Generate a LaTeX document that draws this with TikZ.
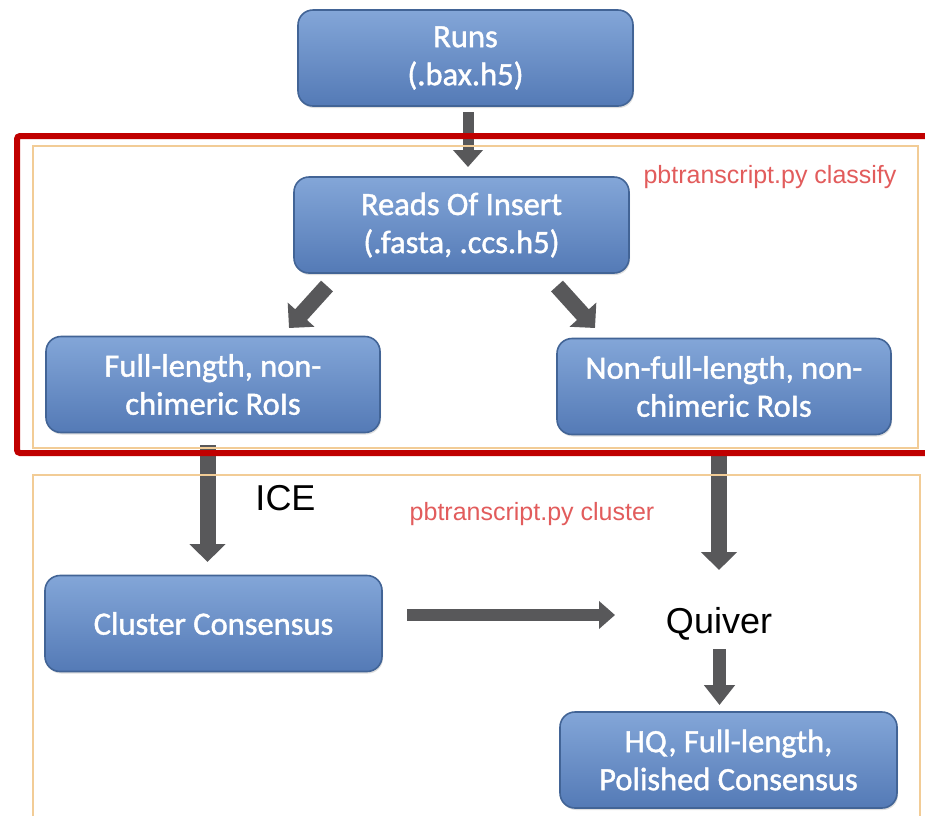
\documentclass[tikz,border=0pt]{standalone}
\usepackage{fontspec}
\setmainfont{Carlito}
\newfontfamily\boxfont{Carlito}[FakeBold=1.3]
\newfontfamily\arialf{Liberation Sans}
\usetikzlibrary{arrows.meta,shadows}
\definecolor{boxtop}{RGB}{131,166,216}
\definecolor{boxbot}{RGB}{84,122,182}
\definecolor{boxedge}{RGB}{66,100,150}
\definecolor{arrowgray}{RGB}{88,88,90}
\definecolor{framered}{RGB}{192,0,0}
\definecolor{frametan}{RGB}{242,204,150}
\definecolor{labelred}{RGB}{226,92,92}
\tikzset{
  flowbox/.style={draw=boxedge, line width=1.6pt, rounded corners=15pt,
    top color=boxtop, bottom color=boxbot, minimum width=335pt, minimum height=96pt,
    align=center, text=white, inner sep=0pt,
    font=\boxfont\fontsize{32.5}{38}\selectfont,
    drop shadow={shadow xshift=1pt, shadow yshift=-2pt, opacity=0.25}},
  thinlabel/.style={text=labelred, font=\arialf\fontsize{25}{28}\selectfont, anchor=base, inner sep=0pt},
  biglabel/.style={text=black, font=\arialf\fontsize{36}{40}\selectfont, anchor=base, inner sep=0pt},
  bigarrow/.style={draw=arrowgray, line width=16pt, -{Triangle[width=35pt,length=18pt]}, arrowgray},
  tanframe/.style={draw=frametan, line width=2pt},
  redframe/.style={draw=framered, line width=6pt, rounded corners=3pt},
}
\begin{document}
\begin{tikzpicture}[x=1pt,y=-1pt]
\useasboundingbox (0,0) rectangle (925,815);
\clip (0,0) rectangle (925,815);
\fill[white] (0,0) rectangle (925,815);

% boxes
\node[flowbox] (runs) at (465.5,58) {Runs\\(.bax.h5)};
\node[flowbox] (reads) at (461.5,225) {Reads Of Insert\\(.fasta, .ccs.h5)};
\node[flowbox, minimum width=334pt] (full) at (213,384.5) {Full-length, non-\\chimeric RoIs};
\node[flowbox, minimum width=334pt] (nonfull) at (724,386.5) {Non-full-length, non-\\chimeric RoIs};
\node[flowbox, minimum width=337pt] (cluster) at (213.5,623.5) {Cluster Consensus};
\node[flowbox, minimum width=337pt] (hq) at (728.5,760) {HQ, Full-length,\\Polished Consensus};

% labels
\node[biglabel] (ice) at (285.5,510) {ICE};
\node[biglabel] (quiver) at (719,633) {Quiver};
\node[thinlabel] (lclassify) at (770,183) {pbtranscript.py classify};
\node[thinlabel] (lcluster) at (532,520) {pbtranscript.py cluster};

% arrow end points
\coordinate (a1s) at (468,112);  \coordinate (a1e) at (468,167);
\coordinate (a2s) at (327,286);  \coordinate (a2e) at (289,328);
\coordinate (a3s) at (557,286);  \coordinate (a3e) at (595,328);
\coordinate (a4s) at (207.5,445);\coordinate (a4e) at (207.5,562);
\coordinate (a5s) at (719,455);  \coordinate (a5e) at (719,570);
\coordinate (a6s) at (407,615);  \coordinate (a6e) at (615,615);
\coordinate (a7s) at (719.5,649);\coordinate (a7e) at (719.5,705);

% arrows
\draw[bigarrow, line width=11pt, -{Triangle[width=29pt,length=17pt]}] (a1s) -- (a1e);
\draw[bigarrow] (a2s) -- (a2e);
\draw[bigarrow] (a3s) -- (a3e);
\draw[bigarrow] (a4s) -- (a4e);
\draw[bigarrow] (a5s) -- (a5e);
\draw[bigarrow, line width=12pt, -{Triangle[width=27pt,length=16pt]}] (a6s) -- (a6e);
\draw[bigarrow, line width=13pt, -{Triangle[width=30pt,length=20pt]}] (a7s) -- (a7e);

% frames
\draw[tanframe] (33,146) rectangle (918,448);
\draw[tanframe] (33,475) rectangle (920,822);
\draw[redframe] (17,136) rectangle (940,453);
\end{tikzpicture}
\end{document}
